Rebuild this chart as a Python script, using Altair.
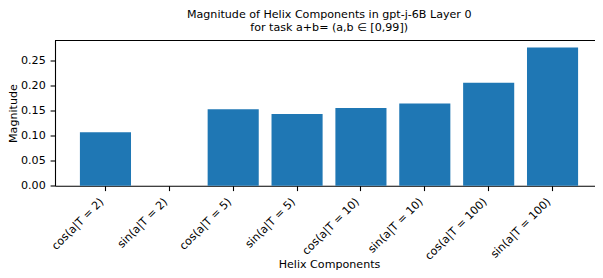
import altair as alt
import pandas as pd

components = ["cos(a|T = 2)", "sin(a|T = 2)", "cos(a|T = 5)", "sin(a|T = 5)",
              "cos(a|T = 10)", "sin(a|T = 10)", "cos(a|T = 100)", "sin(a|T = 100)"]
magnitudes = [0.1062, 0.0, 0.152, 0.1426, 0.1545, 0.1639, 0.2049, 0.2753]
y_ticks = [0.0, 0.05, 0.10, 0.15, 0.20, 0.25]

df = pd.DataFrame({"component": components, "magnitude": magnitudes})

W = 540          # visible part of the plot (page is 603 px wide)
FULL_W = 548     # full axes width; the right edge runs past the page
H = 145.2
FONT = "DejaVu Sans"
FS = 11.1

bars = alt.Chart(df).mark_bar(color="#1f77b4").encode(
    x=alt.X("component:N", sort=components,
            scale=alt.Scale(range=[0, FULL_W], paddingInner=0.2, paddingOuter=0.39),
            axis=alt.Axis(title="Helix Components", labelAngle=315,
                          labelAlign="right", labelBaseline="top",
                          labelPadding=4.9, labelOffset=-7.5,
                          titleX=(FULL_W / 2), titleY=81.5,
                          titleBaseline="alphabetic")),
    y=alt.Y("magnitude:Q", scale=alt.Scale(domain=[0, 0.2891], nice=False),
            axis=alt.Axis(title="Magnitude", values=y_ticks, format=".2f",
                          labelPadding=4.9, titleX=-38.5, titleY=H / 2,
                          titleAngle=270, titleBaseline="alphabetic",
                          titleAlign="center")),
)

top_spine = alt.Chart(df).mark_rule(color="black", strokeWidth=1.1).encode(
    x=alt.value(0), x2=alt.value(FULL_W), y=alt.value(0)
)

chart = alt.layer(bars, top_spine).properties(
    width=W,
    height=H,
    title=alt.TitleParams(
        text=["Magnitude of Helix Components in gpt-j-6B Layer 0",
              "for task a+b= (a,b \u2208 [0,99])"],
        font=FONT, fontSize=FS, fontWeight="normal", color="black",
        anchor="middle", frame="group", dx=4.2, offset=6.5, lineHeight=13),
    autosize=alt.AutoSizeParams(type="none"),
    padding={"left": 47, "top": 32.5, "right": 0, "bottom": 84.3},
).configure_view(stroke=None).configure_axis(
    grid=False, domainColor="black", domainWidth=1.1, tickColor="black",
    tickWidth=1.1, tickSize=4.9, labelFont=FONT, labelFontSize=FS,
    labelColor="black", titleFont=FONT, titleFontSize=FS,
    titleFontWeight="normal", titleColor="black",
)

chart.save("out.html", embed_options={"renderer": "svg", "actions": False})
